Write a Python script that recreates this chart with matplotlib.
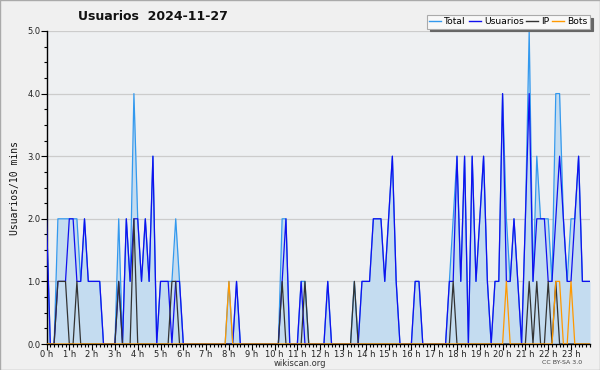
import matplotlib
matplotlib.use("Agg")
import matplotlib.pyplot as plt
from matplotlib.lines import Line2D
from matplotlib.ticker import MultipleLocator, FixedLocator
import numpy as np

# 10-minute slots, 144 per day
usuarios = [2,0,0,1,1,1,2,2,1,1, 2,1,1,1,1,0,0,0,0,1,
            0,2,1,2,2,1,2,1,3,0, 1,1,1,0,1,1,0,0,0,0,
            0,0,0,0,0,0,0,0,0,0, 1,0,0,0,0,0,0,0,0,0,
            0,0,1,2,0,0,0,1,0,0, 0,0,0,0,1,0,0,0,0,0,
            0,0,0,1,1,1,2,2,2,1, 2,3,1,0,0,0,0,1,1,0,
            0,0,0,0,0,0,1,1,3,1, 3,0,3,1,2,3,1,0,1,1,
            4,1,1,2,1,0,2,4,1,2, 2,2,1,1,2,3,2,1,1,2,
            3,1,1,1]
ip = [0]*144
for k, v in {3:1,4:1,5:1,8:1,19:1,23:2,33:1,34:1,62:1,68:1,81:1,
             107:1,127:1,129:1,132:1,134:1}.items():
    ip[k] = v
bots = [0]*144
for k in (48, 121, 134, 135, 138):
    bots[k] = 1
total = [u + i + b for u, i, b in zip(usuarios, ip, bots)]

hour_labels = [f"{h} h" for h in range(24)]
title = "Usuarios  2024-11-27"

x = np.arange(len(usuarios))

fig = plt.figure(figsize=(6, 3.7), dpi=100, facecolor="#f0f0f0")
ax = fig.add_axes([46.5/600, 1-344/370, (590-46.5)/600, (344-31)/370])
ax.set_facecolor("#eef0f2")

ax.fill_between(x, total, 0, color="#c4dcf0", lw=0, zorder=1)
ax.plot(x, total, color="#3399ee", lw=0.9, zorder=2)
ax.plot(x, usuarios, color="#1010ee", lw=0.9, zorder=3)
ax.plot(x, ip, color="#333333", lw=0.9, zorder=4)
ax.plot(x, bots, color="#ff9900", lw=0.9, zorder=5)

ax.set_xlim(0, 143)
ax.set_ylim(0, 5)
for yv in range(1, 6):
    ax.axhline(yv, color="#cccccc", lw=0.9, zorder=0.5)

ax.xaxis.set_major_locator(FixedLocator(np.arange(0, 144, 6)))
ax.set_xticklabels(hour_labels)
ax.xaxis.set_minor_locator(MultipleLocator(1))
ax.yaxis.set_major_locator(MultipleLocator(1))
ax.yaxis.set_minor_locator(MultipleLocator(0.25))
ax.set_yticklabels([f"{v:.1f}" for v in ax.get_yticks()])
ax.tick_params(axis="both", which="major", labelsize=6, length=4, width=0.8,
               color="black", labelcolor="#222222", pad=0.5)
ax.tick_params(axis="both", which="minor", length=2.5, width=0.8, color="black")
for s in ("top", "right"):
    ax.spines[s].set_visible(False)
for s in ("left", "bottom"):
    ax.spines[s].set_linewidth(1.0)
    ax.spines[s].set_color("black")

ax.set_ylabel("Usuarios/10 mins", family="DejaVu Sans Mono", fontsize=7,
              labelpad=5, color="#111111")

fig.text(153/600, 1-17/370, title, ha="center", va="center",
         fontsize=9, fontweight="bold", color="#111111")
fig.text(300/600, 1-363/370, "wikiscan.org", ha="center", va="center",
         fontsize=6, color="#333333")
fig.text(562/600, 1-363/370, "CC BY-SA 3.0", ha="center", va="center",
         fontsize=4.5, color="#444444")

handles = [Line2D([], [], color="#3399ee", lw=1),
           Line2D([], [], color="#1010ee", lw=1),
           Line2D([], [], color="#333333", lw=1),
           Line2D([], [], color="#ff9900", lw=1)]
leg = fig.legend(handles, ["Total", "Usuarios", "IP", "Bots"], ncol=4,
                 loc="upper right", bbox_to_anchor=(590/600, 1-15/370),
                 fontsize=6.6, frameon=True, fancybox=False,
                 handlelength=1.3, handletextpad=0.35, columnspacing=0.3,
                 borderpad=0.25, borderaxespad=0,
                 shadow={"color": "#666666", "alpha": 1})
leg.get_frame().set_facecolor("#f8f8f8")
leg.get_frame().set_edgecolor("#aaaaaa")
leg.get_frame().set_linewidth(0.8)
leg.set_zorder(10)

fig.patches.append(plt.Rectangle((0, 0), 1, 1, transform=fig.transFigure,
                                 fill=False, edgecolor="#aaaaaa", lw=1))

fig.savefig("out.png", dpi=100, facecolor=fig.get_facecolor())
